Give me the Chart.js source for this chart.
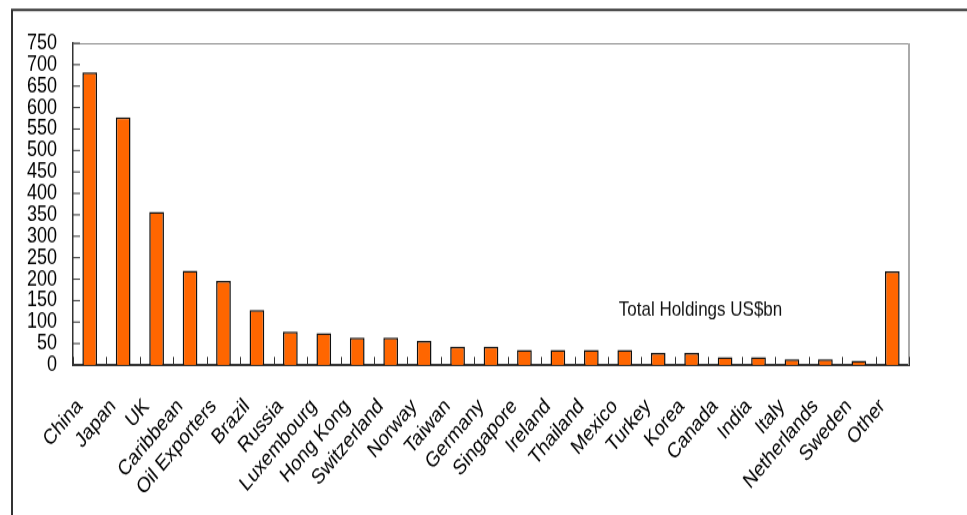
<!DOCTYPE html>
<html>
<head>
<meta charset="utf-8">
<script src="https://cdn.jsdelivr.net/npm/chart.js@4/dist/chart.umd.min.js"></script>
<style>
  html, body { margin: 0; padding: 0; background: #fff; }
  #wrap { width: 967px; height: 515px; }
  /* the original picture is stretched vertically, so draw at 429px and stretch to 515px */
  #chart { display: block; width: 967px; height: 515px; }
</style>
</head>
<body>
<div id="wrap"><canvas id="chart" width="967" height="429" style="width:967px;height:515px"></canvas></div>
<script>
const categories = ['China', 'Japan', 'UK', 'Caribbean', 'Oil Exporters', 'Brazil', 'Russia',
    'Luxembourg', 'Hong Kong', 'Switzerland', 'Norway', 'Taiwan', 'Germany', 'Singapore',
    'Ireland', 'Thailand', 'Mexico', 'Turkey', 'Korea', 'Canada', 'India', 'Italy',
    'Netherlands', 'Sweden', 'Other'];
const holdings = [682, 577, 357, 220, 196, 128, 78, 74, 64, 64, 56, 43, 43, 35, 35, 35, 35,
    28, 28, 18, 18, 13, 13, 10, 218];
const yTicks = [0, 50, 100, 150, 200, 250, 300, 350, 400, 450, 500, 550, 600, 650, 700, 750];
const noteText = 'Total Holdings US$bn';

const FONT = '"Liberation Sans", Arial, sans-serif';

// frame, inward tick marks and the note inside the plot
const decorations = {
    id: 'decorations',
    beforeDraw(chart) {
        const ctx = chart.ctx;
        ctx.save();
        ctx.strokeStyle = '#333';
        ctx.lineWidth = 2;
        ctx.beginPath();
        ctx.moveTo(12, chart.height);
        ctx.lineTo(12, 8.3);
        ctx.lineTo(chart.width, 8.3);
        ctx.stroke();
        ctx.restore();
    },
    afterDraw(chart) {
        const { ctx, chartArea: a, scales: { x, y } } = chart;
        ctx.save();
        // plot border top / right
        ctx.strokeStyle = '#888';
        ctx.lineWidth = 1;
        ctx.beginPath();
        ctx.moveTo(a.left, a.top + 0.5);
        ctx.lineTo(a.right, a.top + 0.5);
        ctx.stroke();
        ctx.strokeStyle = '#aaa';
        ctx.lineWidth = 2;
        ctx.beginPath();
        ctx.moveTo(a.right, a.top);
        ctx.lineTo(a.right, a.bottom);
        ctx.stroke();

        ctx.strokeStyle = '#333';
        ctx.lineWidth = 1;
        ctx.beginPath();
        yTicks.forEach(v => {
            const py = y.getPixelForValue(v);
            ctx.moveTo(a.left, py);
            ctx.lineTo(a.left + 7, py);
        });
        for (let i = 0; i <= categories.length; i++) {
            const px = Math.round(x.getPixelForValue(i - 0.5)) + 0.5;
            ctx.moveTo(px, a.bottom);
            ctx.lineTo(px, a.bottom - 6.7);
        }
        ctx.stroke();

        ctx.fillStyle = '#111';
        ctx.font = '17px ' + FONT;
        ctx.textAlign = 'left';
        ctx.textBaseline = 'middle';
        ctx.fillText(noteText, x.getPixelForValue(16) - 6, y.getPixelForValue(128));
        ctx.restore();
    }
};

new Chart(document.getElementById('chart'), {
    type: 'bar',
    data: {
        labels: categories,
        datasets: [{
            data: holdings,
            backgroundColor: '#ff6600',
            borderColor: '#111',
            borderWidth: 1.5,
            barPercentage: 0.44,
            categoryPercentage: 1
        }]
    },
    options: {
        responsive: false,
        devicePixelRatio: 1,
        animation: false,
        layout: { padding: { top: 36, right: 58, left: 0, bottom: 0 } },
        plugins: {
            legend: { display: false },
            tooltip: { enabled: false }
        },
        scales: {
            x: {
                grid: { display: false },
                border: { display: true, color: '#333', width: 2 },
                ticks: {
                    autoSkip: false,
                    minRotation: 45,
                    maxRotation: 45,
                    padding: 16,
                    labelOffset: -10,
                    color: '#000',
                    font: { family: FONT, size: 18 }
                },
                afterFit(scale) { scale.height = 125; }
            },
            y: {
                min: 0,
                max: 750,
                grid: { display: false },
                border: { display: true, color: '#333', width: 1.5 },
                afterBuildTicks(scale) { scale.ticks = yTicks.map(v => ({ value: v })); },
                ticks: {
                    autoSkip: false,
                    padding: 8,
                    color: '#000',
                    font: { family: FONT, size: 18 }
                },
                afterFit(scale) { scale.width = 73; }
            }
        }
    },
    plugins: [decorations]
});
</script>
</body>
</html>
